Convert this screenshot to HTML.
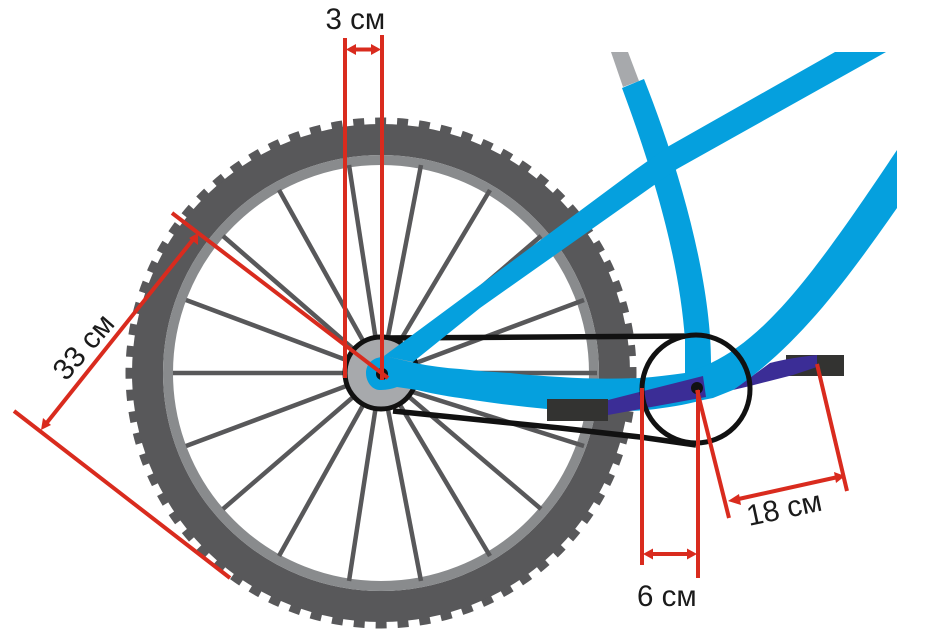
<!DOCTYPE html>
<html><head><meta charset="utf-8"><style>
html,body{margin:0;padding:0;background:#fff}
svg{display:block}
text{font-family:"Liberation Sans",sans-serif;font-size:29.500px;fill:#1a1a1a}
</style></head><body>
<svg width="948" height="633" viewBox="0 0 948 633" xmlns="http://www.w3.org/2000/svg">
<!-- tire -->
<circle cx="381" cy="373" r="233.500" fill="none" stroke="#58585a" stroke-width="31"/>
<circle cx="381" cy="373" r="252" fill="none" stroke="#58585a" stroke-width="7" pathLength="72" stroke-dasharray="0.5 0.5" stroke-dashoffset="0.25"/>
<circle cx="381" cy="373" r="213" fill="none" stroke="#898b8d" stroke-width="10"/>
<!-- spokes -->
<g stroke="#58585a" stroke-width="4.500">
<line x1="381" y1="373" x2="349" y2="165"/><line x1="381" y1="373" x2="421" y2="165"/>
<line x1="381" y1="373" x2="279" y2="190"/><line x1="381" y1="373" x2="490" y2="190"/>
<line x1="381" y1="373" x2="223" y2="236"/><line x1="381" y1="373" x2="541" y2="236"/>
<line x1="381" y1="373" x2="186" y2="300"/><line x1="381" y1="376" x2="584" y2="300"/>
<line x1="381" y1="373" x2="173" y2="373"/><line x1="381" y1="373" x2="597" y2="373"/>
<line x1="381" y1="373" x2="186" y2="446"/><line x1="381" y1="382" x2="584" y2="446"/>
<line x1="381" y1="373" x2="223" y2="509"/><line x1="381" y1="373" x2="541" y2="509"/>
<line x1="381" y1="373" x2="279" y2="556"/><line x1="381" y1="373" x2="490" y2="556"/>
<line x1="381" y1="373" x2="349" y2="581"/><line x1="381" y1="373" x2="421" y2="581"/>
</g>
<!-- chain -->
<g stroke="#111" stroke-width="5.500" fill="none">
<line x1="385" y1="338" x2="696" y2="336"/>
<polyline points="393,411 560,428 640,437 696,445"/>
</g>
<!-- hub -->
<circle cx="381" cy="373" r="36" fill="#a7a9ac" stroke="#111" stroke-width="5"/>
<!-- seat post -->
<polygon points="611,52 628,52 639,81 623,87" fill="#a7a9ac"/>
<!-- right pedal + crank (under frame) -->
<rect x="786" y="355" width="58" height="21" fill="#333331"/>
<path d="M733,390 L770,363 C785,359 800,357 817,355 L817,367 L793,375 L750,386 Z" fill="#3b2d96"/>
<!-- blue frame -->
<g fill="#05a0de">
<path d="M622,88 L644,79 C680,170 711,280 711,363 L711,395 L685,395 L685,340 C680,270 660,190 622,88 Z"/>
<path d="M835,52 L886,52 L677,169 L650,188 L480,308 L413,362 L384,356 L480,285 L635,170 L669,146 Z"/>
<path d="M897,150 L897,208 C850,275 800,345 733,390 L713,398 L703,400 C685,405 665,408 647,410 C625,412 585,411 547,409 C515,406 485,402 460,398 C445,396 430,393 417,390 L397,387 C392,389 386,390 380,390 C372,390 366,382 366,373 C366,365 371,360 377,358 L385,356 L415,363 C430,366 445,368 460,369 C477,371 493,372 510,373 C527,375 543,376 560,377 C587,379 613,379 640,378 C655,377 670,375 685,373 C695,370 703,367 711,363 C770,335 820,265 897,150 Z"/>
</g>
<!-- left pedal + crank -->
<rect x="547" y="399" width="61" height="22" fill="#333331"/>
<path d="M608,400 L703,376 L706,397 L608,415 Z" fill="#3b2d96"/>
<circle cx="696" cy="389" r="54" fill="none" stroke="#111" stroke-width="5"/>
<circle cx="697" cy="388" r="6" fill="#111"/>
<circle cx="382" cy="374" r="6" fill="#111"/>
<!-- red dimension lines -->
<g stroke="#d92b1e" stroke-width="4" fill="none">
<line x1="345" y1="38" x2="345" y2="378"/>
<line x1="382" y1="35" x2="382" y2="380"/>
<line x1="350" y1="49.500" x2="377" y2="49.500"/>
<line x1="642" y1="388" x2="642" y2="565"/>
<line x1="698" y1="390" x2="698" y2="578"/>
<line x1="648" y1="554" x2="692" y2="554"/>
<line x1="697" y1="390" x2="729" y2="518"/>
<line x1="817" y1="364" x2="847" y2="491"/>
<line x1="734" y1="500" x2="838" y2="477"/>
<line x1="172" y1="213" x2="388" y2="378"/>
<line x1="14" y1="411" x2="230" y2="578"/>
<line x1="195" y1="237" x2="45" y2="425"/>
</g>
<g fill="#d92b1e">
<polygon points="346,49.500 356,44 356,55"/>
<polygon points="381,49.500 371,44 371,55"/>
<polygon points="643,554 653,548.500 653,559.500"/>
<polygon points="697,554 687,548.500 687,559.500"/>
<polygon points="728,501 739,494 741,505"/>
<polygon points="845,476 834,472 836,483"/>
<polygon points="198,233 198,245 189,238"/>
<polygon points="41,430 43,418 51,425"/>
</g>
<!-- labels -->
<text x="325.500" y="29">3 см</text>
<text x="637" y="606">6 см</text>
<text transform="translate(749,526) rotate(-12)">18 см</text>
<text transform="translate(66,382) rotate(-49)">33 см</text>
</svg>
</body></html>
